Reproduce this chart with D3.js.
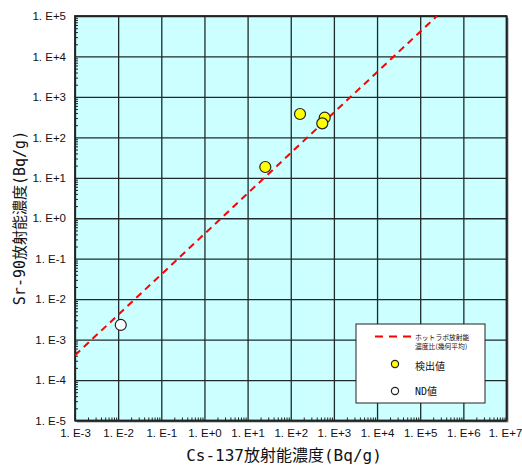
<!DOCTYPE html>
<html><head><meta charset="utf-8">
<script src="https://cdn.jsdelivr.net/npm/d3@7"></script>
<style>
html,body{margin:0;padding:0;background:#fff;}
svg{display:block;}
</style></head>
<body>
<script>
// ---- data ----
const xTickValues = [1e-3,1e-2,1e-1,1e0,1e1,1e2,1e3,1e4,1e5,1e6,1e7];
const xTickLabels = ["1. E-3","1. E-2","1. E-1","1. E+0","1. E+1","1. E+2","1. E+3","1. E+4","1. E+5","1. E+6","1. E+7"];
const yTickValues = [1e-5,1e-4,1e-3,1e-2,1e-1,1e0,1e1,1e2,1e3,1e4,1e5];
const yTickLabels = ["1. E-5","1. E-4","1. E-3","1. E-2","1. E-1","1. E+0","1. E+1","1. E+2","1. E+3","1. E+4","1. E+5"];
const detectedCs = [25.7, 164, 612, 538];
const detectedSr = [18.5, 378, 306, 222];
const ndCs = [0.0115];
const ndSr = [0.0023];
const ratio = 0.41;              // hot-lab activity ratio (geometric mean)
const ratioLineCs = [1e-3, 1e5/0.41];
const xTitle = "Cs-137放射能濃度(Bq/g)";
const yTitle = "Sr-90放射能濃度(Bq/g)";
const legendLine = ["ホットラボ放射能", "濃度比(幾何平均)"];
const legendDetected = "検出値";
const legendND = "ND値";

// ---- layout ----
const W = 522, H = 465;
const L = 75, R = 506.5, T = 16, B = 420.5;
const svg = d3.select("body").append("svg").attr("width", W).attr("height", H);
const x = d3.scaleLog().domain([1e-3, 1e7]).range([L, R]);
const y = d3.scaleLog().domain([1e-5, 1e5]).range([B, T]);
const gridColor = "#1f2b2b";
const cjk = "'DejaVu Sans Mono','Noto Sans CJK JP',sans-serif";
const tickFont = "'Liberation Sans Narrow','Liberation Sans',Arial,sans-serif";

// shadow + background
svg.append("rect").attr("x", L+2).attr("y", T+2).attr("width", R-L).attr("height", B-T).attr("fill", "#8a9a9a");
svg.append("rect").attr("x", L).attr("y", T).attr("width", R-L).attr("height", B-T).attr("fill", "#ccffff");

// grid lines
const gx = svg.append("g").attr("transform", `translate(0,${B})`)
  .call(d3.axisBottom(x).tickValues(xTickValues).tickSize(-(B-T)).tickFormat(""));
gx.select(".domain").remove();
gx.selectAll("line").attr("stroke", gridColor).attr("stroke-width", 1.3);
const gy = svg.append("g").attr("transform", `translate(${L},0)`)
  .call(d3.axisLeft(y).tickValues(yTickValues).tickSize(-(R-L)).tickFormat(""));
gy.select(".domain").remove();
gy.selectAll("line").attr("stroke", gridColor).attr("stroke-width", 1.3);

// minor ticks
const minorX = [], minorY = [];
for (let e = -3; e < 7; e++) for (let m = 2; m <= 9; m++) minorX.push(m * Math.pow(10, e));
for (let e = -5; e < 5; e++) for (let m = 2; m <= 9; m++) minorY.push(m * Math.pow(10, e));
const mx = svg.append("g").attr("transform", `translate(0,${B})`)
  .call(d3.axisBottom(x).tickValues(minorX).tickSize(-3).tickFormat(""));
mx.select(".domain").remove();
mx.selectAll("line").attr("stroke", "#222").attr("stroke-width", 1);
const my = svg.append("g").attr("transform", `translate(${L},0)`)
  .call(d3.axisLeft(y).tickValues(minorY).tickSize(-3).tickFormat(""));
my.select(".domain").remove();
my.selectAll("line").attr("stroke", "#222").attr("stroke-width", 1);

// tick labels
const lx = svg.append("g").attr("transform", `translate(0,${B})`)
  .call(d3.axisBottom(x).tickValues(xTickValues).tickSize(0).tickPadding(8).tickFormat((d,i)=>xTickLabels[i]));
lx.select(".domain").remove();
lx.selectAll("text").attr("font-family", tickFont).attr("font-size", 11.5).attr("fill", "#111");
lx.selectAll(".tick").filter((d,i)=>i === xTickValues.length-1).select("text").attr("dx", -1.5);
const ly = svg.append("g").attr("transform", `translate(${L},0)`)
  .call(d3.axisLeft(y).tickValues(yTickValues).tickSize(0).tickPadding(9).tickFormat((d,i)=>yTickLabels[i]));
ly.select(".domain").remove();
ly.selectAll("text").attr("font-family", tickFont).attr("font-size", 11.5).attr("fill", "#111");

// border
svg.append("rect").attr("x", L).attr("y", T).attr("width", R-L).attr("height", B-T)
  .attr("fill", "none").attr("stroke", "#222").attr("stroke-width", 1.8);

// clip
svg.append("clipPath").attr("id", "clip").append("rect")
  .attr("x", L).attr("y", T).attr("width", R-L).attr("height", B-T);

// ratio line
svg.append("path").attr("clip-path", "url(#clip)")
  .attr("d", d3.line().x(d => x(d)).y(d => y(d * ratio))(ratioLineCs))
  .attr("stroke", "#ff0000").attr("stroke-width", 2).attr("fill", "none")
  .attr("stroke-dasharray", "7,5");

// points
svg.append("g").selectAll("circle").data(ndCs.map((c,i)=>[c, ndSr[i]])).join("circle")
  .attr("cx", d => x(d[0])).attr("cy", d => y(d[1])).attr("r", 5.5)
  .attr("fill", "#ffffff").attr("stroke", "#222").attr("stroke-width", 1.2);
svg.append("g").selectAll("circle").data(detectedCs.map((c,i)=>[c, detectedSr[i]])).join("circle")
  .attr("cx", d => x(d[0])).attr("cy", d => y(d[1])).attr("r", 5.5)
  .attr("fill", "#ffff00").attr("stroke", "#222").attr("stroke-width", 1.2);

// axis titles
svg.append("text").attr("x", 284).attr("y", 455).attr("text-anchor", "middle")
  .attr("dominant-baseline", "central").attr("font-family", cjk).attr("font-size", 16).attr("fill", "#111").text(xTitle);
svg.append("text").attr("transform", `translate(20,218) rotate(-90)`).attr("text-anchor", "middle")
  .attr("dominant-baseline", "central").attr("font-family", cjk).attr("font-size", 15).attr("fill", "#111").text(yTitle);

// legend
const lg = svg.append("g");
lg.append("rect").attr("x", 356).attr("y", 324).attr("width", 129).attr("height", 79)
  .attr("fill", "#fff").attr("stroke", "#222").attr("stroke-width", 1);
lg.append("line").attr("x1", 375).attr("x2", 413).attr("y1", 336.5).attr("y2", 336.5)
  .attr("stroke", "#ff0000").attr("stroke-width", 2).attr("stroke-dasharray", "8,6");
lg.append("text").attr("x", 415).attr("y", 337).attr("dominant-baseline", "central")
  .attr("font-family", "'Noto Sans CJK JP',sans-serif").attr("font-size", 6.8).attr("fill", "#111").text(legendLine[0]);
lg.append("text").attr("x", 415).attr("y", 346).attr("dominant-baseline", "central")
  .attr("font-family", "'Noto Sans CJK JP',sans-serif").attr("font-size", 6.8).attr("fill", "#111").text(legendLine[1]);
lg.append("circle").attr("cx", 395).attr("cy", 364).attr("r", 3.6)
  .attr("fill", "#ffff00").attr("stroke", "#222").attr("stroke-width", 1.2);
lg.append("text").attr("x", 415).attr("y", 366.5).attr("dominant-baseline", "central")
  .attr("font-family", cjk).attr("font-size", 10).attr("fill", "#111").text(legendDetected);
lg.append("circle").attr("cx", 395).attr("cy", 391).attr("r", 3.6)
  .attr("fill", "#ffffff").attr("stroke", "#222").attr("stroke-width", 1.2);
lg.append("text").attr("x", 415).attr("y", 391).attr("dominant-baseline", "central")
  .attr("font-family", cjk).attr("font-size", 10).attr("fill", "#111").text(legendND);
</script>
</body></html>
